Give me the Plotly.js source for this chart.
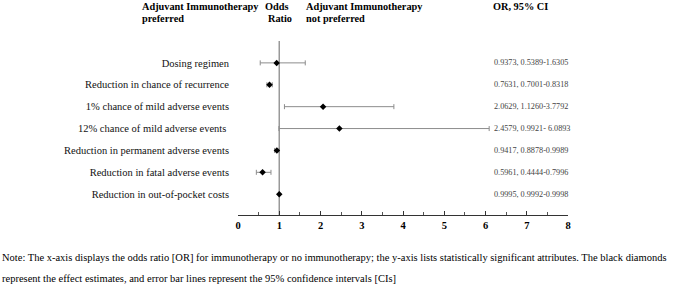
<!DOCTYPE html>
<html>
<head>
<meta charset="utf-8">
<script src="https://cdn.plot.ly/plotly-3.0.1.min.js"></script>
<style>
html,body{margin:0;padding:0;background:#fff;}
#chart{width:674px;height:287px;}
</style>
</head>
<body>
<div id="chart"></div>
<script>
const attributes = [
  "Dosing regimen",
  "Reduction in chance of recurrence",
  "1% chance of mild adverse events",
  "12% chance of mild adverse events ",
  "Reduction in permanent adverse events",
  "Reduction in fatal adverse events",
  "Reduction in out-of-pocket costs"
];
const oddsRatio = [0.9373, 0.7631, 2.0629, 2.4579, 0.9417, 0.5961, 0.9995];
const ciLow     = [0.5389, 0.7001, 1.1260, 0.9921, 0.8878, 0.4444, 0.9992];
const ciHigh    = [1.6305, 0.8318, 3.7792, 6.0893, 0.9989, 0.7996, 0.9998];
const ciText = [
  "0.9373, 0.5389-1.6305",
  "0.7631, 0.7001-0.8318",
  "2.0629, 1.1260-3.7792",
  "2.4579, 0.9921- 6.0893",
  "0.9417, 0.8878-0.9989",
  "0.5961, 0.4444-0.7996",
  "0.9995, 0.9992-0.9998"
];
const xTicks = [0, 1, 2, 3, 4, 5, 6, 7, 8];
const noteLines = [
  "Note: The x-axis displays the odds ratio [OR] for immunotherapy or no immunotherapy; the y-axis lists statistically significant attributes. The black diamonds",
  "represent the effect estimates, and error bar lines represent the 95% confidence intervals [CIs]"
];

const serif = "Liberation Serif, Times New Roman, serif";

const trace = {
  type: "scatter",
  mode: "markers",
  x: oddsRatio,
  y: attributes,
  marker: {symbol: "diamond", size: 5, color: "#000"},
  error_x: {
    type: "data",
    symmetric: false,
    array: oddsRatio.map((v, i) => ciHigh[i] - v),
    arrayminus: oddsRatio.map((v, i) => v - ciLow[i]),
    color: "#8c8c8c",
    thickness: 1,
    width: 2.5
  },
  hoverinfo: "skip",
  cliponaxis: false
};

const annotations = [];
attributes.forEach((a, i) => {
  annotations.push({
    xref: "x", yref: "y", x: 6.2, y: a, text: ciText[i],
    showarrow: false, xanchor: "left", yanchor: "middle", xshift: -2,
    font: {family: serif, size: 8.2, color: "#444"}
  });
});
const hdr = (x, y, t) => ({
  xref: "paper", yref: "paper", x: x, y: y, text: t, showarrow: false,
  xanchor: "left", yanchor: "middle", align: "left", xshift: -2,
  font: {family: serif, size: 10.3, color: "#000"}
});
// header positions converted from pixels: plot area x 238..568, y 41..215
const px = p => (p - 238) / 330;
const py = p => (215 - p) / 174;
annotations.push(hdr(px(142), py(6), "<b>Adjuvant Immunotherapy</b>"));
annotations.push(hdr(px(142), py(18), "<b>preferred</b>"));
annotations.push(hdr(px(265), py(6), "<b>Odds</b>"));
annotations.push(hdr(px(268), py(18), "<b>Ratio</b>"));
annotations.push(hdr(px(306), py(6), "<b>Adjuvant Immunotherapy</b>"));
annotations.push(hdr(px(306), py(18), "<b>not preferred</b>"));
annotations.push(hdr(px(493), py(6), "<b>OR, 95% CI</b>"));
noteLines.forEach((t, i) => {
  annotations.push({
    xref: "paper", yref: "paper", x: px(2), y: py(i === 0 ? 257 : 278), text: t,
    showarrow: false, xanchor: "left", yanchor: "middle", xshift: -2,
    font: {family: serif, size: 10.5, color: "#000"}
  });
});

const layout = {
  width: 674, height: 287,
  margin: {l: 238, r: 106, t: 41, b: 72, pad: 0},
  paper_bgcolor: "#fff", plot_bgcolor: "#fff",
  showlegend: false,
  xaxis: {
    range: [0, 8],
    tickvals: xTicks,
    ticktext: xTicks.map(v => "<b>" + v + "</b>"),
    showgrid: false, zeroline: false,
    showline: true, linecolor: "#333", linewidth: 1,
    ticks: "inside", ticklen: 4, tickcolor: "#333", tickwidth: 1,
    minor: {dtick: 0.5, ticks: "inside", ticklen: 3, tickcolor: "#555", showgrid: false},
    tickfont: {family: serif, size: 10.5, color: "#000"},
    fixedrange: true
  },
  yaxis: {
    type: "category",
    categoryorder: "array",
    categoryarray: attributes,
    autorange: false,
    range: [6.95, -1],
    showgrid: false, zeroline: false, showline: false,
    ticks: "", ticklabelstandoff: 8,
    tickfont: {family: serif, size: 10.5, color: "#111"},
    fixedrange: true
  },
  shapes: [{
    type: "line", xref: "x", yref: "paper", x0: 1, x1: 1, y0: 0, y1: 1,
    line: {color: "#999", width: 1.5}, layer: "below"
  }],
  annotations: annotations
};

Plotly.newPlot("chart", [trace], layout, {staticPlot: true, displayModeBar: false});
</script>
</body>
</html>
